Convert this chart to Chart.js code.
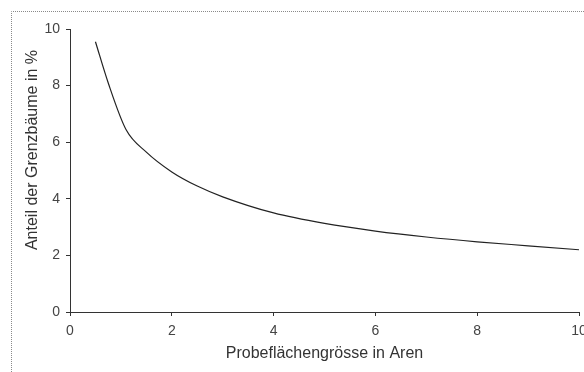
<!DOCTYPE html>
<html>
<head>
<meta charset="utf-8">
<script src="https://cdn.jsdelivr.net/npm/chart.js@4/dist/chart.umd.min.js"></script>
<style>
html,body{margin:0;padding:0;background:#fff;}
#wrap{width:584px;height:372px;position:relative;}
</style>
</head>
<body>
<div id="wrap"><canvas id="curve"></canvas></div>
<script>
const areaX=[0.5,0.75,1.1,1.5,2,2.5,3,4,5,6,7,8,9,10];
const shareY=[9.55,8.1,6.45,5.65,4.95,4.45,4.07,3.5,3.13,2.86,2.65,2.48,2.34,2.2];
const xTicks=[0,2,4,6,8,10];
const yTicks=[0,2,4,6,8,10];
const yTitle="Anteil der Grenzbäume in %";

const points=areaX.map((x,i)=>({x,y:shareY[i]}));

// dotted frame on the left and top, like the scanned figure
const framePlugin={
    id:"frame",
    beforeDraw(chart){
        const ctx=chart.ctx;
        ctx.save();
        ctx.strokeStyle="#8a8a8a";
        ctx.lineWidth=1;
        ctx.setLineDash([1,1]);
        ctx.beginPath();
        ctx.moveTo(11.5,372);
        ctx.lineTo(11.5,11.5);
        ctx.lineTo(584,11.5);
        ctx.stroke();
        ctx.restore();
    }
};

// y title sits a little above the middle of the axis in the original
const yTitlePlugin={
    id:"yTitle",
    afterDraw(chart){
        const ctx=chart.ctx;
        ctx.save();
        ctx.translate(33,150);
        ctx.rotate(-Math.PI/2);
        ctx.fillStyle="#333";
        ctx.font="16px 'Liberation Sans', Arial";
        ctx.textAlign="center";
        ctx.textBaseline="middle";
        ctx.fillText(yTitle,0,0);
        ctx.restore();
    }
};

new Chart(
    document.getElementById("curve"),
    {
        type:"scatter",
        data:{
            datasets:[{
                data:points,
                showLine:true,
                borderColor:"#222",
                borderWidth:1.2,
                pointRadius:0,
                cubicInterpolationMode:"monotone"
            }]
        },
        options:{
            responsive:true,
            maintainAspectRatio:false,
            animation:false,
            layout:{
                padding:{top:29,right:5,bottom:0,left:0}
            },
            plugins:{
                legend:{display:false},
                tooltip:{enabled:false}
            },
            scales:{
                x:{
                    type:"linear",
                    min:0,
                    max:10,
                    afterBuildTicks(scale){
                        scale.ticks=xTicks.map(v=>({value:v}));
                    },
                    afterFit(scale){
                        scale.height=60;
                        scale.paddingRight=0;
                        scale.paddingLeft=0;
                    },
                    grid:{
                        display:true,
                        drawOnChartArea:false,
                        drawTicks:true,
                        tickLength:4,
                        color:"#333"
                    },
                    border:{display:true,color:"#333",width:1},
                    ticks:{
                        padding:7,
                        color:"#444",
                        maxRotation:0,
                        font:{family:"Liberation Sans, Arial",size:14}
                    },
                    title:{
                        display:true,
                        text:"Probeflächengrösse in Aren",
                        color:"#333",
                        padding:{top:0,bottom:9},
                        font:{family:"Liberation Sans, Arial",size:16}
                    }
                },
                y:{
                    type:"linear",
                    min:0,
                    max:10,
                    afterBuildTicks(scale){
                        scale.ticks=yTicks.map(v=>({value:v}));
                    },
                    afterFit(scale){
                        scale.width=70;
                    },
                    grid:{
                        display:true,
                        drawOnChartArea:false,
                        drawTicks:true,
                        tickLength:4,
                        color:"#333"
                    },
                    border:{display:true,color:"#333",width:1},
                    ticks:{
                        padding:6,
                        color:"#444",
                        font:{family:"Liberation Sans, Arial",size:14}
                    }
                }
            }
        },
        plugins:[framePlugin,yTitlePlugin]
    }
);
</script>
</body>
</html>
